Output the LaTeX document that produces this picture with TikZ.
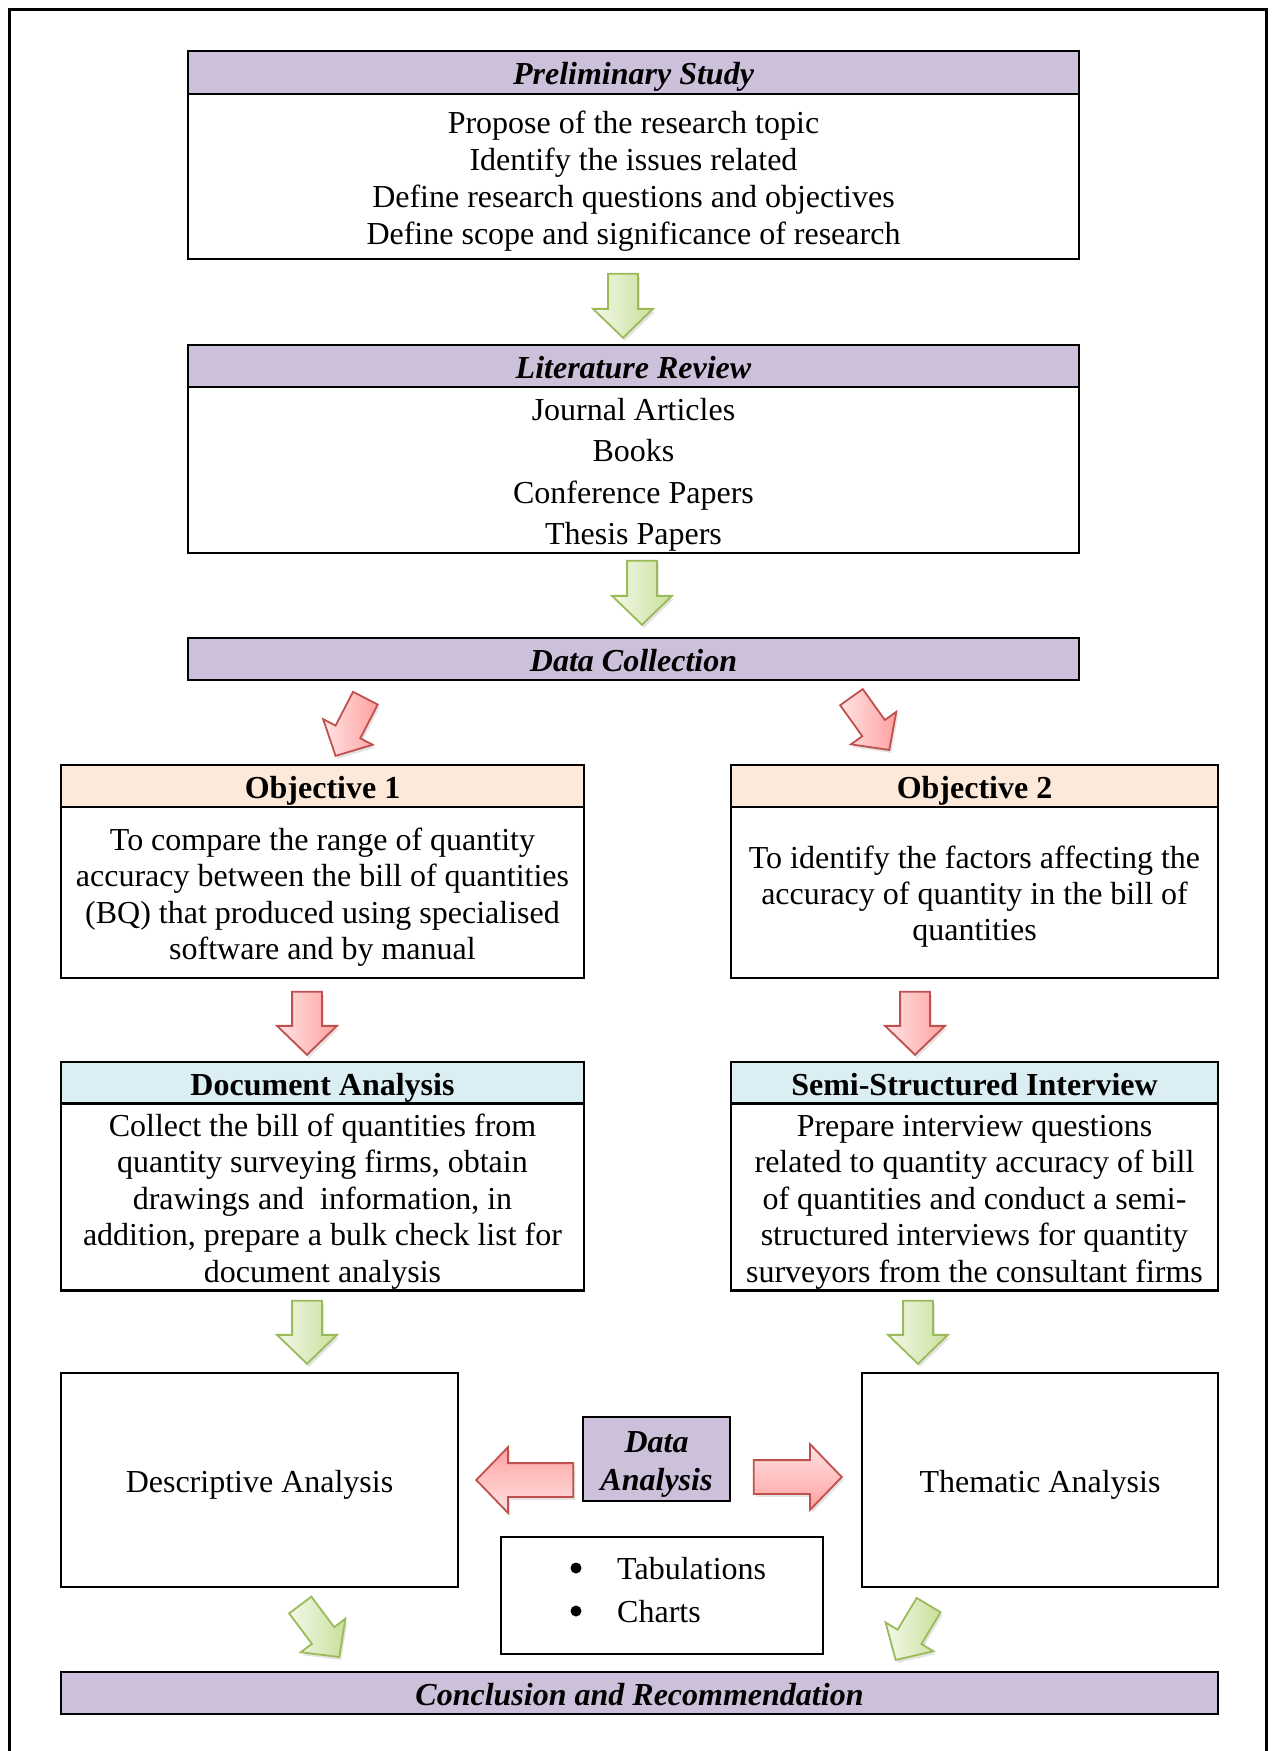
\documentclass[tikz,border=0pt]{standalone}
\usepackage{fontspec}
\setmainfont{Liberation Serif}
\usetikzlibrary{shapes.arrows,shadows}
\definecolor{hdrpurple}{HTML}{CCC0DA}
\definecolor{hdrpeach}{HTML}{FDE9D9}
\definecolor{hdrblue}{HTML}{DAEEF3}
\definecolor{grnborder}{HTML}{9BBB59}
\definecolor{grnlight}{HTML}{F3F8EA}
\definecolor{grndark}{HTML}{C9E09A}
\definecolor{redborder}{HTML}{C0504D}
\definecolor{redlight}{HTML}{FFE4E4}
\definecolor{reddark}{HTML}{FFA0A0}
\newcommand\topstrut{\rule{0pt}{1.03em}}
\newcommand\botstrut{\rule[-0.25em]{0pt}{0.25em}}
\tikzset{
  x=1pt, y=-1pt,
  txt/.style={font=\fontsize{32}{37}\selectfont, align=center},
  box/.style={txt, draw, line width=2.2pt, inner sep=0pt,
     execute at begin node={\topstrut},
     execute at end node={\botstrut}},
  hdrP/.style={box, fill=hdrpurple, font=\fontsize{32}{37}\selectfont\bfseries\itshape},
  hdrO/.style={box, fill=hdrpeach, font=\fontsize{32}{37}\selectfont\bfseries},
  hdrB/.style={box, fill=hdrblue, font=\fontsize{32}{37}\selectfont\bfseries},
  bulletdot/.style={circle, fill=black, inner sep=0pt, minimum size=11pt},
  blockarrow/.style={single arrow, line width=1.8pt, inner xsep=0pt, inner ysep=14pt,
     single arrow head extend=15pt, single arrow tip angle=92, anchor=tip,
     drop shadow={shadow xshift=2pt, shadow yshift=-3pt, opacity=0.22}},
  garrow/.style={blockarrow, draw=grnborder, left color=grnlight, right color=grndark},
  rarrow/.style={blockarrow, draw=redborder, left color=redlight, right color=reddark},
}
\begin{document}
\begin{tikzpicture}
\useasboundingbox (0,0) rectangle (1273,1751);
% outer frame (bottom edge lies beyond the page)
\draw[line width=3pt] (9,1800) -- (9,9.5) -- (1266,9.5) -- (1266,1800);

% Preliminary study
\node[hdrP, minimum width=891pt, minimum height=43pt] (psh) at (633.5,72.5) {Preliminary Study};
\node[box, minimum width=891pt, minimum height=165pt] (ps) at (633.5,176.5)
  {\topstrut Propose of the research topic\\Identify the issues related\\Define research questions and objectives\\Define scope and significance of research\botstrut};

% Literature review
\node[hdrP, minimum width=891pt, minimum height=42pt] (lrh) at (633.5,366) {Literature Review};
\node[box, minimum width=891pt, minimum height=166pt, font=\fontsize{32}{41.5}\selectfont] (lr) at (633.5,470)
  {\topstrut Journal Articles\\Books\\Conference Papers\\Thesis Papers\botstrut};

% Data collection
\node[hdrP, minimum width=891pt, minimum height=42pt] (dc) at (633.5,659) {Data Collection};

% Objectives
\node[hdrO, minimum width=523pt, minimum height=42pt] (o1h) at (322.5,786) {Objective 1};
\node[box, minimum width=523pt, minimum height=171pt, font=\fontsize{32}{36.5}\selectfont] (o1) at (322.5,892.5)
  {\topstrut To compare the range of quantity\\accuracy between the bill of quantities\\(BQ) that produced using specialised\\software and by manual\botstrut};
\node[hdrO, minimum width=487pt, minimum height=42pt] (o2h) at (974.5,786) {Objective 2};
\node[box, minimum width=487pt, minimum height=171pt, font=\fontsize{32}{36}\selectfont] (o2) at (974.5,892.5)
  {\topstrut To identify the factors affecting the\\accuracy of quantity in the bill of\\quantities\botstrut};

% Methods
\node[hdrB, minimum width=523pt, minimum height=42pt] (dah) at (322.5,1083) {Document Analysis};
\node[box, minimum width=523pt, minimum height=186pt, font=\fontsize{32}{36.5}\selectfont] (da) at (322.5,1197)
  {\topstrut Collect the bill of quantities from\\quantity surveying firms, obtain\\drawings and~ information, in\\addition, prepare a bulk check list for\\document analysis\botstrut};
\node[hdrB, minimum width=487pt, minimum height=42pt] (ssh) at (974.5,1083) {Semi-Structured Interview};
\node[box, minimum width=487pt, minimum height=186pt, font=\fontsize{32}{36.5}\selectfont] (ss) at (974.5,1197)
  {\topstrut Prepare interview questions\\related to quantity accuracy of bill\\of quantities and conduct a semi-\\structured interviews for quantity\\surveyors from the consultant firms\botstrut};

% Analysis
\node[box, line width=1.8pt, minimum width=397pt, minimum height=214pt] (desc) at (259.5,1480) {Descriptive Analysis};
\node[box, line width=1.8pt, minimum width=356pt, minimum height=214pt] (them) at (1040,1480) {Thematic Analysis};
\node[hdrP, line width=2.5pt, minimum width=147pt, minimum height=84pt] (dan) at (656.5,1459) {\topstrut Data\\Analysis\botstrut};
\node[draw, line width=1.3pt, minimum width=322pt, minimum height=117pt, inner sep=0pt] (tab) at (662,1595.5) {};
\node[bulletdot] (b1) at (576,1568) {};
\node[bulletdot] (b2) at (576,1611) {};
\node[txt, align=left, anchor=west, inner sep=0pt] (tabtxt) at (617,1590)
  {Tabulations\\[6pt]Charts};

% Conclusion
\node[hdrP, minimum width=1157pt, minimum height=42pt] (conc) at (639.5,1693) {Conclusion and Recommendation};

% Block arrows
\node[garrow, rotate=-90, minimum height=64pt] (a1) at (623,339) {};
\node[garrow, rotate=-90, minimum height=64pt] (a2) at (642,626) {};
\node[rarrow, rotate=242.7, minimum height=65pt, inner ysep=13pt, single arrow head extend=14pt] (a3) at (335,757) {};
\node[rarrow, rotate=-54.4, minimum height=65pt, inner ysep=13pt, single arrow head extend=14pt] (a4) at (890,751) {};
\node[rarrow, rotate=-90, minimum height=63pt] (a5) at (307,1056) {};
\node[rarrow, rotate=-90, minimum height=63pt] (a6) at (915,1056) {};
\node[garrow, rotate=-90, minimum height=63pt] (a7) at (307,1365) {};
\node[garrow, rotate=-90, minimum height=63pt] (a8) at (918,1365) {};
\node[rarrow, rotate=180, minimum height=97pt, inner ysep=16pt, single arrow head extend=16pt,
      top color=reddark, bottom color=redlight] (a9) at (475,1480) {};
\node[rarrow, minimum height=88pt, inner ysep=16pt, single arrow head extend=16pt,
      top color=redlight, bottom color=reddark] (a10) at (843,1477) {};
\node[garrow, rotate=-53.1, minimum height=65pt, inner ysep=13pt, single arrow head extend=14pt] (a11) at (340,1658) {};
\node[garrow, rotate=239, minimum height=64pt, inner ysep=13pt, single arrow head extend=14pt] (a12) at (895,1661) {};
\end{tikzpicture}
\end{document}
